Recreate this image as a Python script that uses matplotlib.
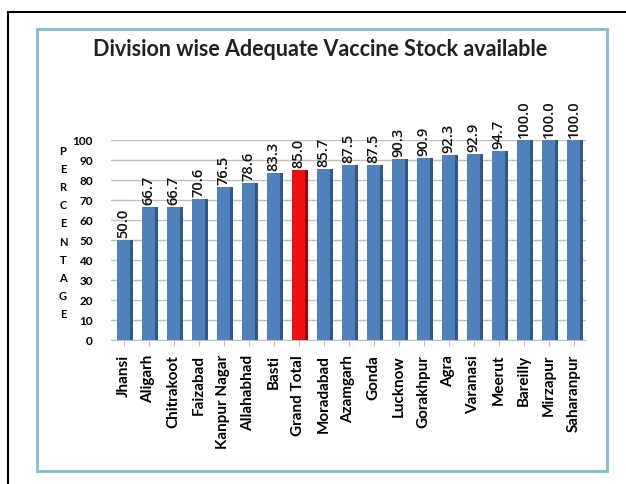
import matplotlib.pyplot as plt
from matplotlib.patches import Rectangle
from matplotlib.lines import Line2D

divisions = ["Jhansi", "Aligarh", "Chitrakoot", "Faizabad", "Kanpur Nagar",
             "Allahabhad", "Basti", "Grand Total", "Moradabad", "Azamgarh",
             "Gonda", "Lucknow", "Gorakhpur", "Agra", "Varanasi", "Meerut",
             "Bareilly", "Mirzapur", "Saharanpur"]
values = [50.0, 66.7, 66.7, 70.6, 76.5, 78.6, 83.3, 85.0, 85.7, 87.5,
          87.5, 90.3, 90.9, 92.3, 92.9, 94.7, 100.0, 100.0, 100.0]
highlight = "Grand Total"

plt.rcParams["font.family"] = ["Lato", "DejaVu Sans"]

fig = plt.figure(figsize=(6.26, 4.85), dpi=100)

# outer black frame (left + top) and inner light blue frame
fig.add_artist(Line2D([8/626, 8/626], [0, 1 - 13/485], color="black", lw=1.5))
fig.add_artist(Line2D([8/626, 1], [1 - 13/485, 1 - 13/485], color="black", lw=1.5))
fig.add_artist(Rectangle((37/626, 1 - 472/485), 570/626, 442/485,
                         fill=False, edgecolor="#7fbfd0", lw=2))

ax = fig.add_axes([111/626, 1 - 341/485, 475/626, 200/485])

colors = ["#ee1111" if d == highlight else "#4f81bd" for d in divisions]
sides = ["#a00000" if d == highlight else "#2f5a8c" for d in divisions]
x = list(range(len(divisions)))
w = 0.5
ax.bar(x, values, width=w, color=colors, zorder=3)
# darker side strip for a 3D look
ax.bar([i + w / 2 + 0.06 for i in x], values, width=0.12, color=sides, zorder=2)

for i, v in enumerate(values):
    ax.text(i, v + 1.5, f"{v:.1f}", rotation=90, ha="center", va="bottom",
            fontsize=10.5, family=["Open Sans", "DejaVu Sans"],
            fontweight="semibold", color="#111111")

ax.set_xlim(-0.5, len(divisions) - 0.5)
ax.set_ylim(0, 100)
ax.set_yticks(range(0, 101, 10))
ax.yaxis.grid(True, color="#bfbfbf", lw=1, zorder=0)
ax.set_axisbelow(True)
for s in ["top", "right", "left"]:
    ax.spines[s].set_visible(False)
ax.spines["bottom"].set_color("#bfbfbf")

ax.set_xticks(x)
ax.set_xticklabels(divisions, rotation=90, fontsize=11, fontweight="bold")
ax.tick_params(axis="x", length=4, color="#bfbfbf", pad=6)
ax.tick_params(axis="y", length=0, labelsize=8.5, pad=13)
for lab in ax.get_yticklabels():
    lab.set_fontweight("bold")

# vertical stacked y label
fig.text(63/626, 1 - 233/485, "\n".join("PERCENTAGE"), ha="center", va="center",
         fontsize=8, fontweight="bold", linespacing=1.78)

fig.text(320/626, 1 - 50/485, "Division wise Adequate Vaccine Stock available",
         ha="center", va="center", fontsize=15.5, fontweight="bold", color="#222222")

fig.savefig("out.png", dpi=100, facecolor="white")
